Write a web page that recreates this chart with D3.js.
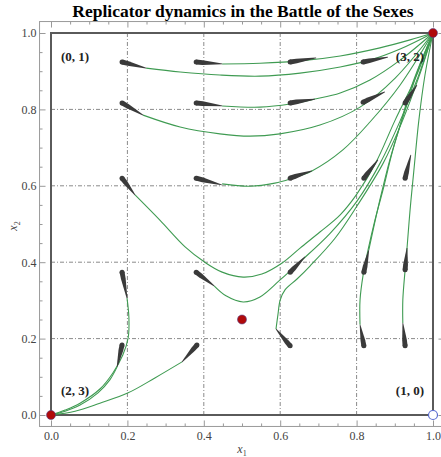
<!DOCTYPE html>
<html>
<head>
<meta charset="utf-8">
<script src="https://cdn.jsdelivr.net/npm/d3@7"></script>
<style>
body { margin: 0; background: #fff; }
svg { display: block; }
</style>
</head>
<body>
<div id="chart"></div>
<script>
const title = "Replicator dynamics in the Battle of the Sexes"
const tickValues = [0, 0.2, 0.4, 0.6, 0.8, 1.0]
const gridValues = [0.2, 0.4, 0.6, 0.8]

// payoff pairs written at the four corners of the unit square
const corners = [[0, 1], [1, 1], [0, 0], [1, 0]]
const payoffs = ["(0, 1)", "(3, 2)", "(2, 3)", "(1, 0)"]

// rest points: filled ones and the open one at (1, 0)
const filledPoints = [[0, 0], [1, 1], [0.5, 0.25]]
const openPoints = [[1, 0]]

// trajectories, (x1, x2) pairs, ending at (1, 1)
const toTopRight = [
  [[0.249,0.908],[0.338,0.898],[0.442,0.890],[0.547,0.887],[0.652,0.895],[0.757,0.911],[0.835,0.929],[0.914,0.958],[1,1]],
  [[0.448,0.919],[0.547,0.921],[0.652,0.927],[0.757,0.940],[0.861,0.961],[0.940,0.982],[1,1]],
  [[0.241,0.785],[0.338,0.754],[0.442,0.736],[0.521,0.730],[0.599,0.736],[0.704,0.759],[0.809,0.806],[0.901,0.882],[1,1]],
  [[0.448,0.809],[0.547,0.806],[0.626,0.814],[0.691,0.827],[0.757,0.843],[0.835,0.877],[0.914,0.929],[1,1]],
  [[0.448,0.605],[0.521,0.599],[0.586,0.607],[0.626,0.618],[0.683,0.639],[0.764,0.694],[0.835,0.767],[0.914,0.864],[1,1]],
  [[0.220,0.576],[0.285,0.510],[0.351,0.440],[0.401,0.401],[0.448,0.374],[0.503,0.361],[0.552,0.369],[0.605,0.398],[0.652,0.437],[0.704,0.479],[0.757,0.524],[0.801,0.579],[0.850,0.660],[0.900,0.770],[0.953,0.880],[1,1]],
  [[0.427,0.338],[0.458,0.312],[0.503,0.296],[0.547,0.309],[0.599,0.353],[0.652,0.401],[0.730,0.475],[0.801,0.560],[0.862,0.660],[0.914,0.770],[0.961,0.885],[1,1]],
  [[0.589,0.225],[0.594,0.262],[0.600,0.301],[0.613,0.328],[0.644,0.356],[0.678,0.390],[0.743,0.462],[0.801,0.547],[0.870,0.660],[0.920,0.770],[0.963,0.885],[1,1]],
  [[0.809,0.236],[0.809,0.301],[0.817,0.366],[0.830,0.432],[0.848,0.510],[0.869,0.589],[0.895,0.694],[0.927,0.798],[0.961,0.903],[1,1]],
  [[0.832,0.432],[0.846,0.497],[0.864,0.576],[0.887,0.668],[0.914,0.759],[0.945,0.864],[1,1]],
  [[0.921,0.241],[0.921,0.301],[0.927,0.380],[0.932,0.437],[0.940,0.537],[0.950,0.641],[0.963,0.772],[0.979,0.890],[1,1]]
]

// trajectories ending at (0, 0)
const toOrigin = [
  [[0.199,0.306],[0.204,0.254],[0.202,0.202],[0.188,0.157],[0.162,0.110],[0.128,0.068],[0.076,0.031],[0.037,0.013],[0,0]],
  [[0.173,0.126],[0.154,0.092],[0.123,0.058],[0.076,0.026],[0.037,0.010],[0,0]],
  [[0.343,0.139],[0.272,0.097],[0.202,0.058],[0.128,0.031],[0.063,0.010],[0,0]]
]

// stream arrows: [x1 start, x2 start, x1 end, x2 end]
const arrows = [
  [0.186,0.924,0.249,0.908], [0.380,0.924,0.448,0.919], [0.626,0.924,0.694,0.935], [0.817,0.924,0.882,0.937],
  [0.186,0.817,0.241,0.785], [0.380,0.817,0.448,0.809], [0.626,0.817,0.691,0.827], [0.817,0.819,0.874,0.846], [0.927,0.817,0.958,0.864],
  [0.186,0.620,0.220,0.576], [0.380,0.620,0.448,0.602], [0.626,0.620,0.683,0.639], [0.819,0.620,0.856,0.668], [0.927,0.620,0.942,0.681],
  [0.186,0.374,0.199,0.306], [0.380,0.374,0.427,0.338], [0.626,0.374,0.665,0.414], [0.819,0.374,0.832,0.432], [0.927,0.380,0.932,0.437],
  [0.186,0.183,0.173,0.126], [0.382,0.183,0.343,0.139], [0.626,0.181,0.589,0.225], [0.819,0.181,0.809,0.236], [0.927,0.181,0.921,0.241]
]

const width = 441
const height = 457
const serif = "'Liberation Serif', 'Times New Roman', serif"

const x = d3.scaleLinear().domain([0, 1]).range([51, 433])
const y = d3.scaleLinear().domain([0, 1]).range([415, 33])
const pad = 0.03

const svg = d3.select("#chart")
  .append("svg")
  .attr("width", width)
  .attr("height", height)
  .style("font-family", serif)

svg.append("text")
  .attr("x", 243)
  .attr("y", 17)
  .attr("text-anchor", "middle")
  .style("font-size", "17.5px")
  .style("font-weight", "bold")
  .text(title)

// dash-dot grid inside the unit square
const grid = svg.append("g")
  .attr("stroke", "#8a8a8a")
  .attr("stroke-width", 1)
  .attr("stroke-dasharray", "4,2,1,2")
grid.selectAll(".gx").data(gridValues).join("line")
  .attr("x1", d => x(d)).attr("x2", d => x(d))
  .attr("y1", y(0)).attr("y2", y(1))
grid.selectAll(".gy").data(gridValues).join("line")
  .attr("y1", d => y(d)).attr("y2", d => y(d))
  .attr("x1", x(0)).attr("x2", x(1))

// frame with inward ticks
const minor = d3.range(0, 1.0001, 0.05).filter(v => Math.abs(v * 5 - Math.round(v * 5)) > 1e-6)
const x0f = x(-pad), x1f = x(1 + pad), y0f = y(-pad), y1f = y(1 + pad)

function frameAxis(axis, tx, ty, labels) {
  const g = svg.append("g").attr("transform", `translate(${tx},${ty})`)
  g.call(axis.tickValues(tickValues).tickSize(-6)
    .tickFormat(labels ? d3.format(".1f") : ""))
  return g
}
function frameMinor(axis, tx, ty) {
  return svg.append("g").attr("transform", `translate(${tx},${ty})`)
    .call(axis.tickValues(minor).tickSize(-3).tickFormat(""))
}

const axes = [
  frameAxis(d3.axisBottom(x).tickPadding(5), 0, y0f, true),
  frameAxis(d3.axisLeft(y).tickPadding(3), x0f, 0, true),
  frameAxis(d3.axisTop(x), 0, y1f, false),
  frameAxis(d3.axisRight(y), x1f, 0, false),
  frameMinor(d3.axisBottom(x), 0, y0f),
  frameMinor(d3.axisLeft(y), x0f, 0),
  frameMinor(d3.axisTop(x), 0, y1f),
  frameMinor(d3.axisRight(y), x1f, 0)
]
axes.forEach(g => {
  g.select(".domain").remove()
  g.selectAll(".tick line").attr("stroke", "#999")
  g.selectAll(".tick text")
    .attr("fill", "#444")
    .style("font-family", serif)
    .style("font-size", "12px")
})

svg.append("rect")
  .attr("x", x0f).attr("y", y1f)
  .attr("width", x1f - x0f).attr("height", y0f - y1f)
  .attr("fill", "none")
  .attr("stroke", "#9a9a9a")
  .attr("stroke-width", 1)

// unit square outline
svg.append("rect")
  .attr("x", x(0)).attr("y", y(1))
  .attr("width", x(1) - x(0)).attr("height", y(0) - y(1))
  .attr("fill", "none")
  .attr("stroke", "#5a5a5a")
  .attr("stroke-width", 2)

// axis titles
svg.append("text")
  .attr("x", 242).attr("y", 453)
  .attr("text-anchor", "middle")
  .style("font-size", "12px")
  .style("font-style", "italic")
  .attr("fill", "#444")
  .html("x<tspan dy='3' font-size='8px' font-style='normal'>1</tspan>")

svg.append("text")
  .attr("transform", "translate(17,226) rotate(-90)")
  .attr("text-anchor", "middle")
  .style("font-size", "12px")
  .style("font-style", "italic")
  .attr("fill", "#444")
  .html("x<tspan dy='3' font-size='8px' font-style='normal'>2</tspan>")

// trajectories
const line = d3.line()
  .x(d => x(d[0]))
  .y(d => y(d[1]))
  .curve(d3.curveCatmullRom.alpha(0.5))

svg.append("g")
  .selectAll("path")
  .data(toTopRight.concat(toOrigin))
  .join("path")
  .attr("d", line)
  .attr("fill", "none")
  .attr("stroke", "#3f9b52")
  .attr("stroke-width", 1.1)

// comet-like stream arrows, thick at the start and tapering to the end
function comet(d) {
  const sx = x(d[0]), sy = y(d[1]), ex = x(d[2]), ey = y(d[3])
  const L = Math.hypot(ex - sx, ey - sy)
  const ux = (ex - sx) / L, uy = (ey - sy) / L
  const nx = -uy, ny = ux
  const w = 2.5
  const mx = sx + ux * L * 0.25, my = sy + uy * L * 0.25
  return `M${sx + nx * w},${sy + ny * w}` +
    `L${mx + nx * w * 0.95},${my + ny * w * 0.95}` +
    `L${ex + nx * 0.35},${ey + ny * 0.35}` +
    `L${ex - nx * 0.35},${ey - ny * 0.35}` +
    `L${mx - nx * w * 0.95},${my - ny * w * 0.95}` +
    `L${sx - nx * w},${sy - ny * w}Z`
}

const arrowG = svg.append("g").attr("fill", "#3a3a3a")
arrowG.selectAll("path")
  .data(arrows)
  .join("path")
  .attr("d", comet)
arrowG.selectAll("circle")
  .data(arrows)
  .join("circle")
  .attr("cx", d => x(d[0]))
  .attr("cy", d => y(d[1]))
  .attr("r", 2.5)

// corner payoffs
const labelOffset = [[10, 28, "start"], [-9, 28, "end"], [10, -20, "start"], [-9, -20, "end"]]
svg.append("g")
  .selectAll("text")
  .data(payoffs)
  .join("text")
  .attr("x", (d, i) => x(corners[i][0]) + labelOffset[i][0])
  .attr("y", (d, i) => y(corners[i][1]) + labelOffset[i][1])
  .attr("text-anchor", (d, i) => labelOffset[i][2])
  .style("font-size", "13px")
  .style("font-weight", "bold")
  .attr("fill", "#222")
  .text(d => d)

// rest points
svg.append("g")
  .selectAll("circle")
  .data(filledPoints)
  .join("circle")
  .attr("cx", d => x(d[0]))
  .attr("cy", d => y(d[1]))
  .attr("r", 4.5)
  .attr("fill", "#b00a0a")
  .attr("stroke", "#55408a")
  .attr("stroke-width", 0.6)

svg.append("g")
  .selectAll("circle")
  .data(openPoints)
  .join("circle")
  .attr("cx", d => x(d[0]))
  .attr("cy", d => y(d[1]))
  .attr("r", 4.5)
  .attr("fill", "#fff")
  .attr("stroke", "#5a6cd0")
  .attr("stroke-width", 1.2)
</script>
</body>
</html>
